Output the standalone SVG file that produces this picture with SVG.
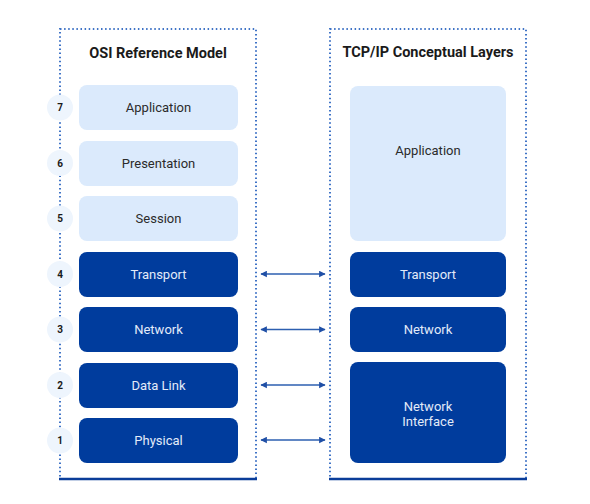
<svg xmlns="http://www.w3.org/2000/svg" width="590" height="504" viewBox="0 0 590 504">
<style>
.frame{fill:none;stroke:#3f73c6;stroke-width:2;stroke-dasharray:1.5 2.6}
.base{stroke:#0a3d99;stroke-width:2.5}
.light{fill:#dbeafc}
.dark{fill:#003c9d}
.lt{font-family:Roboto,"Liberation Sans",sans-serif;font-size:13px;fill:#2b2b2b;text-anchor:middle}
.dt{font-family:Roboto,"Liberation Sans",sans-serif;font-size:13px;fill:#e3ebf9;text-anchor:middle}
.title{font-family:Roboto,"Liberation Sans",sans-serif;font-size:14.5px;font-weight:bold;fill:#1a1a1a;text-anchor:middle}
.num{fill:#eef5fd}
.nt{font-family:Roboto,"Liberation Sans",sans-serif;font-size:10px;font-weight:bold;fill:#1a1a1a;text-anchor:middle}
.arr{stroke:#2d5fb0;stroke-width:1.3;fill:none;marker-start:url(#ah);marker-end:url(#ah)}
</style>
<defs>
<marker id="ah" viewBox="0 0 10 10" refX="9" refY="5" markerWidth="6.5" markerHeight="7" orient="auto-start-reverse" markerUnits="userSpaceOnUse">
<path d="M0,0 L10,5 L0,10 z" fill="#1f4fa6"/>
</marker>
</defs>
<rect width="590" height="504" fill="#ffffff"/>
<g id="osi-frame">
<rect class="frame" x="60" y="29" width="196" height="450"/>
<line class="base" x1="59" y1="479" x2="257" y2="479"/>
<text class="title" x="158" y="58">OSI Reference Model</text>
</g>
<g id="tcp-frame">
<rect class="frame" x="330" y="29" width="196" height="450"/>
<line class="base" x1="329" y1="479" x2="527" y2="479"/>
<text class="title" x="428" y="57">TCP/IP Conceptual Layers</text>
</g>
<g id="osi7"><circle class="num" cx="60" cy="107.5" r="13"/><text class="nt" x="60" y="111">7</text><rect class="light" x="79" y="85" width="159" height="45" rx="8"/><text class="lt" x="158.5" y="112">Application</text></g>
<g id="osi6"><circle class="num" cx="60" cy="163" r="13"/><text class="nt" x="60" y="166.5">6</text><rect class="light" x="79" y="141" width="159" height="45" rx="8"/><text class="lt" x="158.5" y="167.5">Presentation</text></g>
<g id="osi5"><circle class="num" cx="60" cy="218.5" r="13"/><text class="nt" x="60" y="222">5</text><rect class="light" x="79" y="196" width="159" height="45" rx="8"/><text class="lt" x="158.5" y="223">Session</text></g>
<g id="osi4"><circle class="num" cx="60" cy="274" r="13"/><text class="nt" x="60" y="277.5">4</text><rect class="dark" x="79" y="252" width="159" height="45" rx="8"/><text class="dt" x="158.5" y="278.5">Transport</text></g>
<g id="osi3"><circle class="num" cx="60" cy="329.5" r="13"/><text class="nt" x="60" y="333">3</text><rect class="dark" x="79" y="307" width="159" height="45" rx="8"/><text class="dt" x="158.5" y="334">Network</text></g>
<g id="osi2"><circle class="num" cx="60" cy="385" r="13"/><text class="nt" x="60" y="388.5">2</text><rect class="dark" x="79" y="363" width="159" height="45" rx="8"/><text class="dt" x="158.5" y="389.5">Data Link</text></g>
<g id="osi1"><circle class="num" cx="60" cy="440.5" r="13"/><text class="nt" x="60" y="444">1</text><rect class="dark" x="79" y="418" width="159" height="45" rx="8"/><text class="dt" x="158.5" y="445">Physical</text></g>
<g id="tcp-app"><rect class="light" x="350" y="86" width="156" height="155" rx="8"/><text class="lt" x="428" y="154.5">Application</text></g>
<g id="tcp-transport"><rect class="dark" x="350" y="252" width="156" height="45" rx="8"/><text class="dt" x="428" y="278.5">Transport</text></g>
<g id="tcp-network"><rect class="dark" x="350" y="307" width="156" height="45" rx="8"/><text class="dt" x="428" y="334">Network</text></g>
<g id="tcp-netif"><rect class="dark" x="350" y="362" width="156" height="101" rx="8"/><text class="dt" x="428" y="411">Network</text><text class="dt" x="428" y="426">Interface</text></g>
<g id="connectors">
<line class="arr" x1="261" y1="274" x2="325" y2="274"/>
<line class="arr" x1="261" y1="329.5" x2="325" y2="329.5"/>
<line class="arr" x1="261" y1="385" x2="325" y2="385"/>
<line class="arr" x1="261" y1="440" x2="325" y2="440"/>
</g>
</svg>
